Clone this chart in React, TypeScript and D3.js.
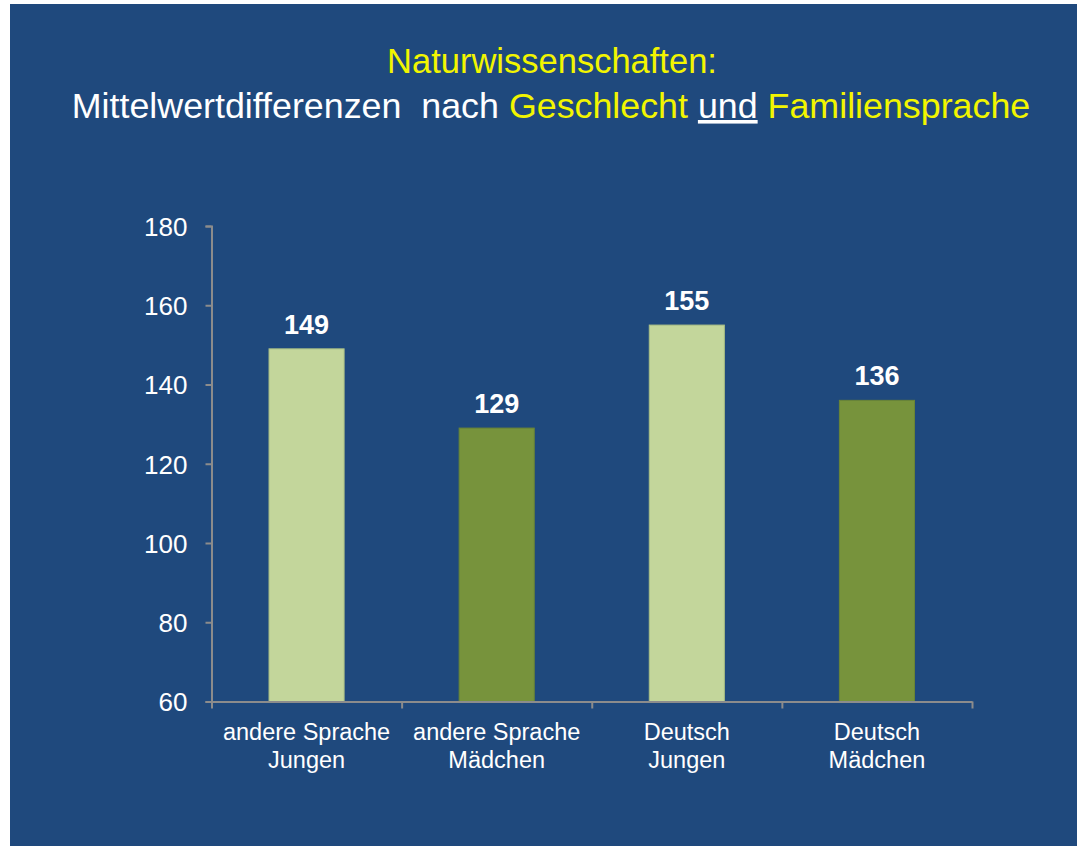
import React, { useEffect, useRef } from "react";
import * as d3 from "d3";

// category labels (two lines each, split on "|")
const categories = ["andere Sprache|Jungen", "andere Sprache|Mädchen", "Deutsch|Jungen", "Deutsch|Mädchen"];
const values = [149, 129, 155, 136];
const barColors = ["#C3D69B", "#77933C", "#C3D69B", "#77933C"];
const yTicks = [60, 80, 100, 120, 140, 160, 180];

const FONT = "'Liberation Sans', Arial, sans-serif";

export default function App() {
  const ref = useRef<SVGSVGElement>(null);

  useEffect(() => {
    document.body.style.margin = "0";
    const svg = d3.select(ref.current);
    svg.selectAll("*").remove();

    // blue panel
    svg.append("rect")
      .attr("x", 10).attr("y", 4)
      .attr("width", 1067).attr("height", 842)
      .attr("fill", "#1F497D");

    // title
    svg.append("text")
      .attr("x", 552).attr("y", 73)
      .attr("text-anchor", "middle")
      .attr("font-family", FONT).attr("font-size", 34.5)
      .attr("fill", "#F2F500")
      .text("Naturwissenschaften:");

    const line2 = svg.append("text")
      .attr("x", 551).attr("y", 118)
      .attr("text-anchor", "middle")
      .attr("font-family", FONT).attr("font-size", 35.8)
      .style("white-space", "pre");
    line2.append("tspan").attr("fill", "#FFFFFF").text("Mittelwertdifferenzen  nach ");
    line2.append("tspan").attr("fill", "#F2F500").text("Geschlecht ");
    line2.append("tspan").attr("fill", "#FFFFFF").attr("text-decoration", "underline").text("und");
    line2.append("tspan").attr("fill", "#F2F500").text(" Familiensprache");

    const margin = { left: 211.5, right: 972, top: 226, bottom: 701.5 };

    const x = d3.scaleBand()
      .domain(categories)
      .range([margin.left, margin.right])
      .paddingInner(0.605)
      .paddingOuter(0.3025);

    const y = d3.scaleLinear()
      .domain([60, 180])
      .range([margin.bottom, margin.top]);

    const axisColor = "#8C8C8C";

    // y axis
    const yAxis = svg.append("g")
      .attr("transform", `translate(${margin.left},0)`)
      .call(d3.axisLeft(y).tickValues(yTicks).tickSize(6).tickPadding(18).tickFormat(d3.format("d")));
    yAxis.select(".domain").attr("stroke", axisColor).attr("stroke-width", 2);
    yAxis.selectAll(".tick line").attr("stroke", axisColor).attr("stroke-width", 2);
    yAxis.selectAll(".tick text")
      .attr("fill", "#FFFFFF")
      .attr("font-family", FONT)
      .attr("font-size", 26)
      .attr("dy", "0.36em");

    // bars
    svg.selectAll(".bar")
      .data(values)
      .enter()
      .append("rect")
      .attr("class", "bar")
      .attr("x", (d, i) => x(categories[i])!)
      .attr("y", d => y(d))
      .attr("width", x.bandwidth())
      .attr("height", d => y(60) - y(d))
      .attr("fill", (d, i) => barColors[i])
      .attr("stroke", (d, i) => i % 2 === 0 ? "#A9BE85" : "#6A8536")
      .attr("stroke-width", 1);

    // value labels
    svg.selectAll(".val")
      .data(values)
      .enter()
      .append("text")
      .attr("class", "val")
      .attr("x", (d, i) => x(categories[i])! + x.bandwidth() / 2)
      .attr("y", d => y(d) - 15)
      .attr("text-anchor", "middle")
      .attr("font-family", FONT)
      .attr("font-weight", "bold")
      .attr("font-size", 27)
      .attr("fill", "#FFFFFF")
      .text(d => d);

    // x axis, ticks sit between categories
    const step = x.step();
    const xAxisScale = d3.scaleLinear()
      .domain([0, categories.length])
      .range([margin.left, margin.left + categories.length * step]);
    const xAxis = svg.append("g")
      .attr("transform", `translate(0,${margin.bottom})`)
      .call(d3.axisBottom(xAxisScale).tickValues(d3.range(categories.length + 1)).tickSize(7).tickSizeOuter(0).tickFormat(() => ""));
    xAxis.select(".domain").attr("stroke", axisColor).attr("stroke-width", 2);
    xAxis.selectAll(".tick line").attr("stroke", axisColor).attr("stroke-width", 2);

    // category labels
    const cat = svg.selectAll(".cat")
      .data(categories)
      .enter()
      .append("text")
      .attr("class", "cat")
      .attr("text-anchor", "middle")
      .attr("font-family", FONT)
      .attr("font-size", 23.5)
      .attr("fill", "#FFFFFF");
    cat.each(function (d) {
      const cx = x(d)! + x.bandwidth() / 2;
      d.split("|").forEach((p, j) => {
        d3.select(this).append("tspan")
          .attr("x", cx)
          .attr("y", 740 + j * 28)
          .text(p);
      });
    });
  }, []);

  return (
    <svg ref={ref} width={1077} height={846} style={{ display: "block", background: "#FFFFFF" }} />
  );
}
